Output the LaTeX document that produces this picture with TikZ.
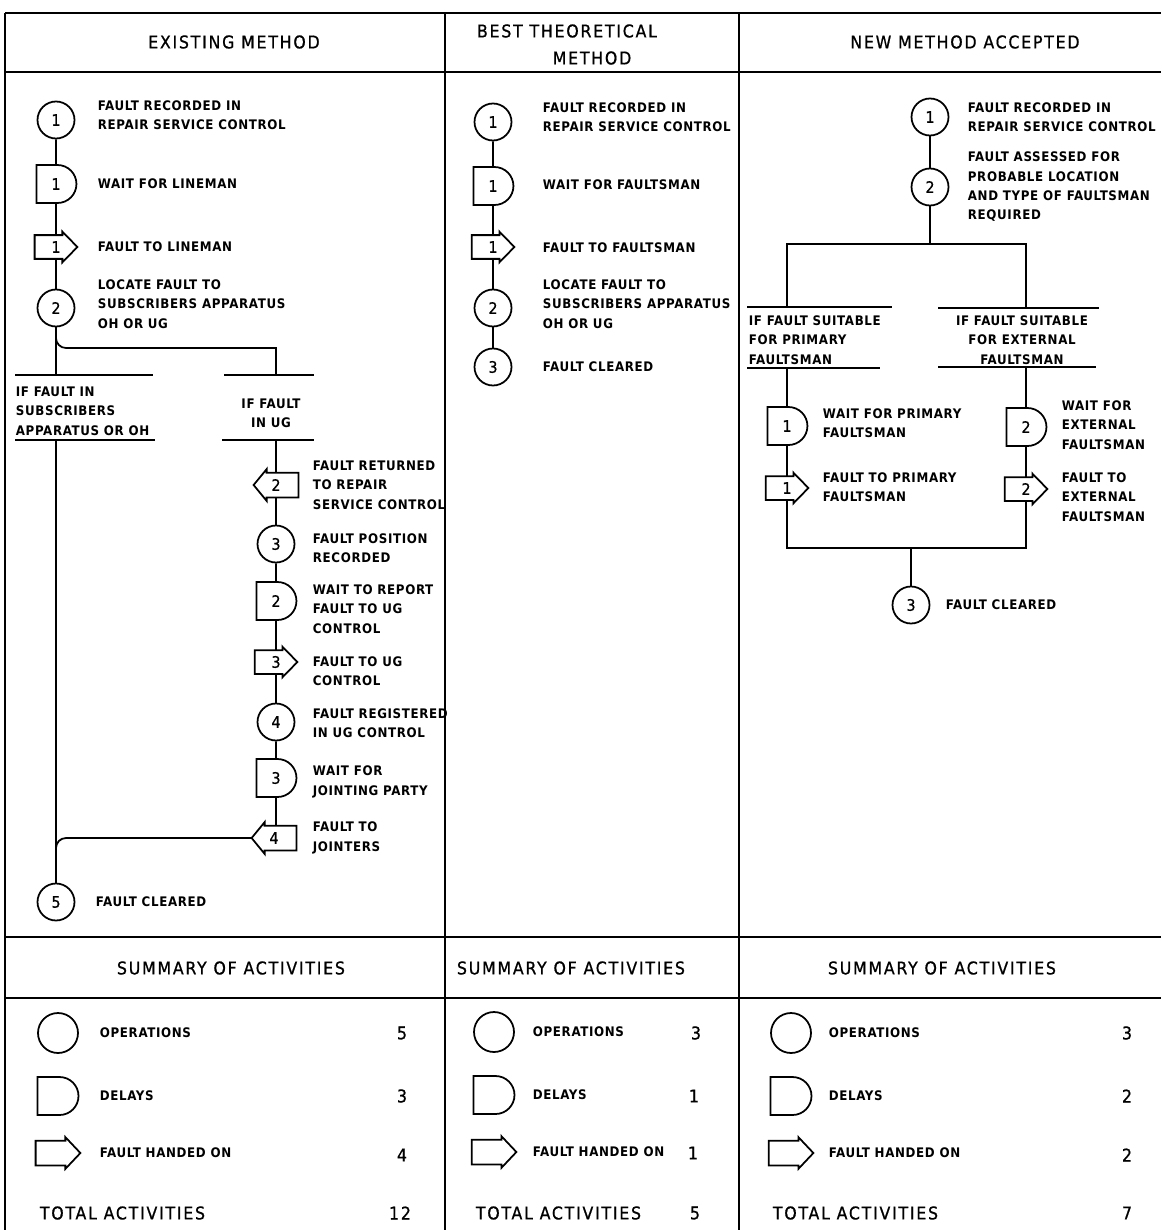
\documentclass[tikz,border=0pt]{standalone}
\usepackage{fontspec}
\usepackage{tikz}
\usetikzlibrary{bayesnet,shapes.misc}

\newfontfamily\bodyfam{DejaVuSansCondensed-Bold}[Extension=.ttf, LetterSpace=5]
\newfontfamily\headfam{DejaVuSansCondensed}[Extension=.ttf, LetterSpace=10, FakeBold=0.8]
\newcommand{\bodyfont}{\bodyfam\fontsize{7.5}{11}\selectfont}
\newcommand{\headfont}{\headfam\fontsize{10}{14}\selectfont}
\newcommand{\numfont}{\headfam\fontsize{9}{10}\selectfont}

\tikzset{
  op/.style={circle, draw, minimum size=0.74cm, inner sep=0pt, font=\numfont},
  delay/.style={rounded rectangle, rounded rectangle west arc=none, draw,
    minimum height=0.76cm, minimum width=0.8cm, inner sep=0pt, font=\numfont},
  % fault handed on: drawn round an empty rectangle
  handon/.style={rectangle, minimum height=0.44cm, minimum width=0.82cm,
    inner sep=0pt, font=\numfont,
    append after command={\pgfextra{\draw (\tikzlastnode.north west)
      -- ([xshift=-0.3cm]\tikzlastnode.north east)
      -- ([xshift=-0.3cm, yshift=0.07cm]\tikzlastnode.north east)
      -- (\tikzlastnode.east)
      -- ([xshift=-0.3cm, yshift=-0.07cm]\tikzlastnode.south east)
      -- ([xshift=-0.3cm]\tikzlastnode.south east)
      -- (\tikzlastnode.south west) -- cycle;}}},
  handback/.style={rectangle, minimum height=0.46cm, minimum width=0.86cm,
    inner sep=0pt, font=\numfont,
    append after command={\pgfextra{\draw (\tikzlastnode.north east)
      -- ([xshift=0.26cm]\tikzlastnode.north west)
      -- ([xshift=0.26cm, yshift=0.07cm]\tikzlastnode.north west)
      -- (\tikzlastnode.west)
      -- ([xshift=0.26cm, yshift=-0.07cm]\tikzlastnode.south west)
      -- ([xshift=0.26cm]\tikzlastnode.south west)
      -- (\tikzlastnode.south east) -- cycle;}}},
  lbl/.style={anchor=west, align=left, inner sep=0pt, font=\bodyfont},
  lblc/.style={align=center, inner sep=0pt, font=\bodyfont},
  head/.style={inner sep=0pt, font=\headfont},
}

\begin{document}
\begin{tikzpicture}[x=0.02cm, y=-0.02cm, line width=1pt]
      \useasboundingbox (0,0) rectangle (1161,1230);
      % table
      \draw (5,13) -- (1161,13);
      \draw (5,13) -- (5,1230);
      \draw (445,13) -- (445,1230);
      \draw (739,13) -- (739,1230);
      \draw (5,72) -- (1161,72);
      \draw (5,937) -- (1161,937);
      \draw (5,998) -- (1161,998);
      \node[head] (hexist) at (234,42) {EXISTING METHOD};
      \node[head] (hbest) at (567,31) {BEST THEORETICAL};
      \node[head] (hbestm) at (592,58) {METHOD};
      \node[head] (hnew) at (965,42) {NEW METHOD ACCEPTED};

      % existing method
      \node[op] (e1) at (56,120) {1};
      \node[delay] (ed1) at (56,184) {1};
      \node[handon] (eh1) at (56,247) {1};
      \node[op] (e2) at (56,308) {2};
      \node[lbl] at (97,115) {FAULT RECORDED IN\\REPAIR SERVICE CONTROL};
      \node[lbl] at (97,184) {WAIT FOR LINEMAN};
      \node[lbl] at (97,247) {FAULT TO LINEMAN};
      \node[lbl] at (97,304) {LOCATE FAULT TO\\SUBSCRIBERS APPARATUS\\OH OR UG};
      \coordinate (esub) at (56,375);
      \coordinate (ebend) at (56,338);
      \coordinate (eugtop) at (276,375);
      \draw (15,375) -- (153,375);
      \draw (224,375) -- (314,375);
      \draw (15,440) -- (155,440);
      \draw (222,440) -- (314,440);
      \node[lbl] at (15,411) {IF FAULT IN\\SUBSCRIBERS\\APPARATUS OR OH};
      \node[lblc] at (271,413) {IF FAULT\\IN UG};
      \coordinate (esubbot) at (56,440);
      \coordinate (eugbot) at (276,440);
      \node[handback] (er2) at (276,485) {2};
      \node[op] (e3) at (276,544) {3};
      \node[delay] (ed2) at (276,601) {2};
      \node[handon] (eh3) at (276,662) {3};
      \node[op] (e4) at (276,722) {4};
      \node[delay] (ed3) at (276,778) {3};
      \node[handback] (er4) at (274,838) {4};
      \node[op] (e5) at (56,902) {5};
      \node[lbl] at (312,485) {FAULT RETURNED\\TO REPAIR\\SERVICE CONTROL};
      \node[lbl] at (312,548) {FAULT POSITION\\RECORDED};
      \node[lbl] at (312,609) {WAIT TO REPORT\\FAULT TO UG\\CONTROL};
      \node[lbl] at (312,671) {FAULT TO UG\\CONTROL};
      \node[lbl] at (312,723) {FAULT REGISTERED\\IN UG CONTROL};
      \node[lbl] at (312,782) {WAIT FOR\\JOINTING PARTY};
      \node[lbl] at (312,838) {FAULT TO\\JOINTERS};
      \node[lbl] at (95,902) {FAULT CLEARED};
      \coordinate (ejoin) at (66,838);
      \coordinate (ejoinb) at (56,848);
      \edge[-]{e1}{ed1}
      \edge[-]{ed1}{eh1}
      \edge[-]{eh1}{e2}
      \edge[-]{e2}{esub}
      \draw (ebend) to[out=-90, in=180] (66,348) -- (276,348) -- (eugtop);
      \edge[-]{esubbot}{e5}
      \edge[-]{eugbot}{er2}
      \edge[-]{er2}{e3}
      \edge[-]{e3}{ed2}
      \edge[-]{ed2}{eh3}
      \edge[-]{eh3}{e4}
      \edge[-]{e4}{ed3}
      \draw (ed3) -- (ed3 |- er4.north);
      \draw (er4.west) -- (ejoin) to[out=180, in=90] (ejoinb);

      % best theoretical method
      \node[op] (b1) at (493,122) {1};
      \node[delay] (bd1) at (493,186) {1};
      \node[handon] (bh1) at (493,247) {1};
      \node[op] (b2) at (493,308) {2};
      \node[op] (b3) at (493,367) {3};
      \node[lbl] at (542,117) {FAULT RECORDED IN\\REPAIR SERVICE CONTROL};
      \node[lbl] at (542,185) {WAIT FOR FAULTSMAN};
      \node[lbl] at (542,248) {FAULT TO FAULTSMAN};
      \node[lbl] at (542,304) {LOCATE FAULT TO\\SUBSCRIBERS APPARATUS\\OH OR UG};
      \node[lbl] at (542,367) {FAULT CLEARED};
      \edge[-]{b1}{bd1}
      \edge[-]{bd1}{bh1}
      \edge[-]{bh1}{b2}
      \edge[-]{b2}{b3}

      % new method accepted
      \node[op] (n1) at (930,117) {1};
      \node[op] (n2) at (930,187) {2};
      \node[lbl] at (967,117) {FAULT RECORDED IN\\REPAIR SERVICE CONTROL};
      \node[lbl] at (967,187) {FAULT ASSESSED FOR\\PROBABLE LOCATION\\AND TYPE OF FAULTSMAN\\REQUIRED};
      \coordinate (nsplit) at (930,244);
      \coordinate (nprimtop) at (787,307);
      \coordinate (nexttop) at (1026,307);
      \draw (747,307) -- (892,307);
      \draw (938,308) -- (1099,308);
      \draw (747,368) -- (880,368);
      \draw (938,367) -- (1096,367);
      \node[lbl] at (748,340) {IF FAULT SUITABLE\\FOR PRIMARY\\FAULTSMAN};
      \node[lblc] at (1022,340) {IF FAULT SUITABLE\\FOR EXTERNAL\\FAULTSMAN};
      \coordinate (nprimbot) at (787,368);
      \coordinate (nextbot) at (1026,367);
      \node[delay] (nd1) at (787,426) {1};
      \node[handon] (nh1) at (787,488) {1};
      \node[delay] (nd2) at (1026,427) {2};
      \node[handon] (nh2) at (1026,489) {2};
      \node[lbl] at (822,423) {WAIT FOR PRIMARY\\FAULTSMAN};
      \node[lbl] at (822,487) {FAULT TO PRIMARY\\FAULTSMAN};
      \node[lbl] at (1061,425) {WAIT FOR\\EXTERNAL\\FAULTSMAN};
      \node[lbl] at (1061,497) {FAULT TO\\EXTERNAL\\FAULTSMAN};
      \coordinate (nmerge) at (911,548);
      \node[op] (n3) at (911,605) {3};
      \node[lbl] at (945,605) {FAULT CLEARED};
      \edge[-]{n1}{n2}
      \edge[-]{n2}{nsplit}
      \draw (nprimtop) |- (nsplit) -| (nexttop);
      \edge[-]{nprimbot}{nd1}
      \edge[-]{nd1}{nh1}
      \edge[-]{nextbot}{nd2}
      \edge[-]{nd2}{nh2}
      \draw (nh1) |- (nmerge) -| (nh2);
      \edge[-]{nmerge}{n3}

      % summary of activities
      \node[head] (sexist) at (231,968) {SUMMARY OF ACTIVITIES};
      \node[head] (sbest) at (571,968) {SUMMARY OF ACTIVITIES};
      \node[head] (snew) at (942,968) {SUMMARY OF ACTIVITIES};
      \node[op, minimum size=0.8cm] (seop) at (58,1033) {};
      \node[delay, minimum width=0.82cm] (sedl) at (58,1096) {};
      \node[handon, minimum height=0.46cm, minimum width=0.86cm] (seho) at (58,1153) {};
      \node[lbl] at (99,1033) {OPERATIONS};
      \node[lbl] at (99,1096) {DELAYS};
      \node[lbl] at (99,1153) {FAULT HANDED ON};
      \node[head, anchor=west] at (39,1213) {TOTAL ACTIVITIES};
      \node[head] at (402,1033) {5};
      \node[head] at (402,1096) {3};
      \node[head] at (402,1155) {4};
      \node[head] at (400,1213) {12};
      \node[op, minimum size=0.8cm] (sbop) at (494,1032) {};
      \node[delay, minimum width=0.82cm] (sbdl) at (494,1095) {};
      \node[handon, minimum height=0.46cm, minimum width=0.86cm] (sbho) at (494,1152) {};
      \node[lbl] at (532,1032) {OPERATIONS};
      \node[lbl] at (532,1095) {DELAYS};
      \node[lbl] at (532,1152) {FAULT HANDED ON};
      \node[head, anchor=west] at (475,1213) {TOTAL ACTIVITIES};
      \node[head] at (696,1033) {3};
      \node[head] at (694,1096) {1};
      \node[head] at (693,1153) {1};
      \node[head] at (695,1213) {5};
      \node[op, minimum size=0.8cm] (snop) at (791,1033) {};
      \node[delay, minimum width=0.82cm] (sndl) at (791,1096) {};
      \node[handon, minimum height=0.46cm, minimum width=0.86cm] (snho) at (791,1153) {};
      \node[lbl] at (828,1033) {OPERATIONS};
      \node[lbl] at (828,1096) {DELAYS};
      \node[lbl] at (828,1153) {FAULT HANDED ON};
      \node[head, anchor=west] at (772,1213) {TOTAL ACTIVITIES};
      \node[head] at (1127,1033) {3};
      \node[head] at (1127,1096) {2};
      \node[head] at (1127,1155) {2};
      \node[head] at (1127,1213) {7};
    \end{tikzpicture}
\end{document}
